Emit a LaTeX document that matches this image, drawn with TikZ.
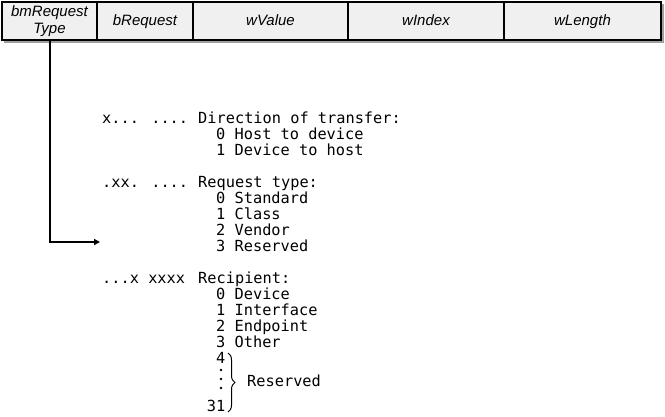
\documentclass[tikz,border=0pt]{standalone}
\usepackage{fontspec}
\usepackage{xcolor}
\usetikzlibrary{positioning,arrows.meta,decorations.pathreplacing}
\newfontfamily\fieldfont{Liberation Sans}
\newfontfamily\bitsfont{DejaVu Sans Mono}
\definecolor{cellgray}{HTML}{F0F0F0}
\definecolor{shadegray}{HTML}{A0A0A0}
\tikzset{
  field/.style={draw, line width=2pt, fill=cellgray, minimum height=38pt,
    inner sep=0pt, outer sep=0pt, align=center,
    font=\fieldfont\itshape\fontsize{15}{17}\selectfont},
  onefield/.style={field, text height=11pt, text depth=3pt},
  bits/.style={anchor=base west, inner sep=0pt,
    font=\bitsfont\fontsize{15.3}{16}\selectfont},
}

\begin{document}
\begin{tikzpicture}[x=1pt,y=-1pt]
        \useasboundingbox (0,0) rectangle (665,416);
        % Shadow of the setup packet
        \fill[shadegray] (4,4) rectangle (664,43);
        % Setup packet fields
        \node[field, minimum width=95pt, anchor=north west] (bmrt) at (2,2) {bmRequest\\Type};
        \node[onefield, minimum width=96pt, right=0pt of bmrt] (breq) {bRequest};
        \node[onefield, minimum width=155pt, right=0pt of breq] (wval) {wValue};
        \node[onefield, minimum width=156pt, right=0pt of wval] (widx) {wIndex};
        \node[onefield, minimum width=157pt, right=0pt of widx] (wlen) {wLength};
        % Bits D7: direction
        \node[bits] (dirbits) at (102,123) {x... ....};
        \node[bits] (dirhdr) at (198,123) {Direction of transfer:};
        \node[bits] (dir0) at (216,139) {0 Host to device};
        \node[bits] (dir1) at (216,155) {1 Device to host};
        % Bits D6..D5: type
        \node[bits] (typbits) at (102,187) {.xx. ....};
        \node[bits] (typhdr) at (198,187) {Request type:};
        \node[bits] (typ0) at (216,203) {0 Standard};
        \node[bits] (typ1) at (216,219) {1 Class};
        \node[bits] (typ2) at (216,235) {2 Vendor};
        \node[bits] (typ3) at (216,251) {3 Reserved};
        % Bits D4..D0: recipient
        \node[bits] (rcpbits) at (102,283) {...x xxxx};
        \node[bits] (rcphdr) at (198,283) {Recipient:};
        \node[bits] (rcp0) at (216,299) {0 Device};
        \node[bits] (rcp1) at (216,315) {1 Interface};
        \node[bits] (rcp2) at (216,331) {2 Endpoint};
        \node[bits] (rcp3) at (216,347) {3 Other};
        \node[bits] (rcp4) at (216,363) {4};
        \node[bits, anchor=base east] (rcp31) at (rcp4.base east |- 0,411) {31};
        \foreach \y in {370,379,388}
          \fill (221,\y) circle (1.4);
        \draw[decorate, decoration={brace, amplitude=7pt}, line width=1pt] (228,353) -- (228,412);
        \node[bits] (rsvd) at (247,386) {Reserved};
        % Connector from bmRequestType
        \coordinate (rtend) at (100,242);
        \draw[line width=2pt, -{Triangle[length=6pt,width=6pt]}] (bmrt.south) |- (rtend);
    \end{tikzpicture}
\end{document}
